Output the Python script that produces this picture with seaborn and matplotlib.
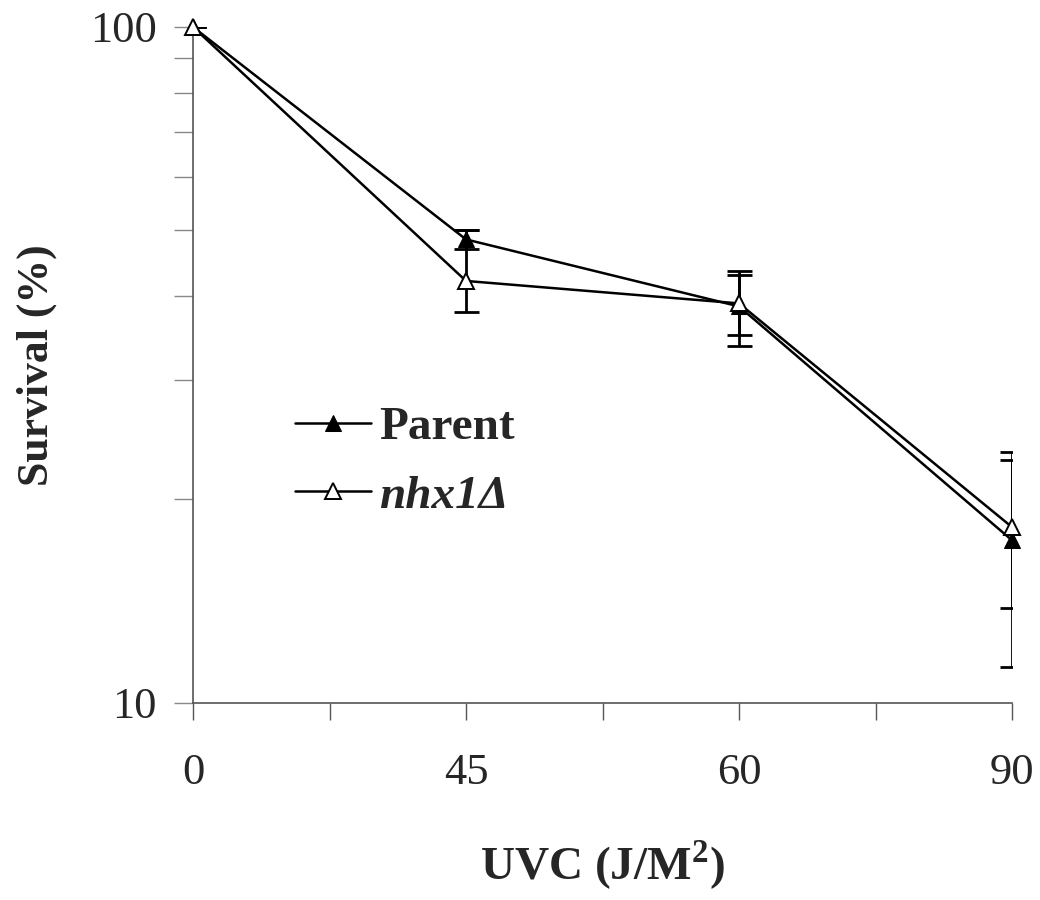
"""
Sobrevivência após UVC (Parent vs nhx1Δ), eixo Y logarítmico.
"""

import matplotlib

matplotlib.use("Agg")
import matplotlib.pyplot as plt
import numpy as np
import pandas as pd
import seaborn as sns
from matplotlib.ticker import FixedLocator, NullFormatter

# dados
doses = ["0", "45", "60", "90"]
parent = [100, 48.5, 38.6, 17.4]
parent_err_low = [0, 1.5, 4.9, 6.1]
parent_err_high = [0, 1.5, 4.9, 6.1]
nhx1 = [100, 42.1, 39.0, 18.2]
nhx1_err_low = [0, 4.2, 4.0, 4.4]
nhx1_err_high = [0, 7.9, 4.0, 4.7]

pos = np.arange(len(doses))
df = pd.DataFrame({"pos": pos, "Parent": parent, "nhx1": nhx1})

sns.set_style("white")
plt.rcParams["font.family"] = ["Liberation Serif", "DejaVu Serif"]
plt.rcParams["mathtext.fontset"] = "custom"
plt.rcParams["mathtext.rm"] = "Liberation Serif"
plt.rcParams["mathtext.bf"] = "Liberation Serif:bold"

fig = plt.figure(figsize=(10.4, 9), dpi=100)
ax = fig.add_axes([0.1856, 0.219, 0.7875, 0.751])

# barras de erro
ax.errorbar(pos, parent, yerr=[parent_err_low, parent_err_high], fmt="none",
            ecolor="black", elinewidth=2.0, capsize=9, capthick=2.0, zorder=2)
ax.errorbar(pos, nhx1, yerr=[nhx1_err_low, nhx1_err_high], fmt="none",
            ecolor="black", elinewidth=2.0, capsize=9, capthick=2.0, zorder=2)

sns.lineplot(data=df, x="pos", y="Parent", ax=ax, color="black", lw=1.8,
             marker="^", markersize=11, markerfacecolor="black",
             markeredgecolor="black", label="Parent", clip_on=False, zorder=3)
sns.lineplot(data=df, x="pos", y="nhx1", ax=ax, color="black", lw=1.8,
             marker="^", markersize=11, markerfacecolor="white",
             markeredgecolor="black", markeredgewidth=1.4,
             label="nhx1Δ", clip_on=False, zorder=4)

ax.set_yscale("log")
ax.set_ylim(10, 100)
ax.set_xlim(0, 3)

ax.yaxis.set_major_locator(FixedLocator([10, 100]))
ax.set_yticklabels(["10", "100"])
ax.yaxis.set_minor_locator(FixedLocator([20, 30, 40, 50, 60, 70, 80, 90]))
ax.yaxis.set_minor_formatter(NullFormatter())

ax.set_xticks(pos)
ax.set_xticklabels(doses)
ax.xaxis.set_minor_locator(FixedLocator([0.5, 1.5, 2.5]))

ax.tick_params(axis="x", which="both", direction="out", length=12, width=1,
               color="#555555", labelsize=32, pad=24, bottom=True)
ax.tick_params(axis="y", which="both", direction="out", length=14, width=1,
               color="#888888", labelsize=32, pad=12, left=True)

for side in ["top", "right"]:
    ax.spines[side].set_visible(False)
for side in ["left", "bottom"]:
    ax.spines[side].set_color("#555555")
    ax.spines[side].set_linewidth(1.2)

ax.set_xlabel(r"UVC (J/M$^{\mathbf{2}}$)", fontsize=34, fontweight="bold",
              labelpad=33)
ax.set_ylabel("Survival (%)", fontsize=31.5, fontweight="bold", labelpad=24)

leg = ax.legend(loc="upper left", bbox_to_anchor=(0.073, 0.502), frameon=False,
                handlelength=1.6, labelspacing=0.54, handletextpad=0.18,
                prop={"size": 34, "weight": "bold"})
leg.get_texts()[1].set_fontstyle("italic")

fig.savefig("out.png", dpi=100)
